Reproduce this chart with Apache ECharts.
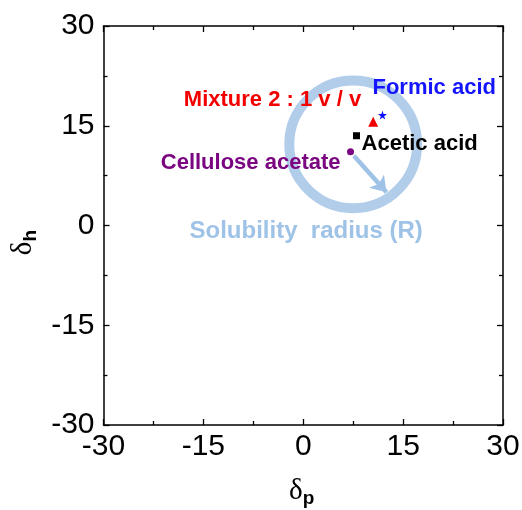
<!DOCTYPE html>
<html>
<head>
<meta charset="utf-8">
<script src="https://cdn.jsdelivr.net/npm/echarts@6/dist/echarts.min.js"></script>
<style>
  html, body { margin: 0; padding: 0; background: #fff; }
  #chart { width: 522px; height: 510px; }
</style>
</head>
<body>
<div id="chart"></div>
<script>
// Hansen solubility parameters (delta_p, delta_h)
const formicAcid = [11.9, 16.6];
const mixture = [10.5, 15.6];
const aceticAcid = [8.0, 13.5];
const celluloseAcetate = [7.1, 11.1];
// Solubility sphere projection: centre x, centre y, radius R
const solubilitySphere = [7.5, 12.2, 9.6];
// Arrow showing the radius
const radiusArrow = [[7.6, 10.5], [12.5, 5.0]];
// Axis range and tick step
const axisMin = -30;
const axisMax = 30;
const tickStep = 15;

const LIGHT_BLUE = '#9fc3e6';
const FONT = '"Liberation Sans", Arial, sans-serif';
const SERIF = '"Liberation Serif", "DejaVu Serif", serif';

const chart = echarts.init(document.getElementById('chart'), null, { renderer: 'canvas' });

function baseAxis(extra) {
  return Object.assign({
    type: 'value',
    min: axisMin,
    max: axisMax,
    interval: tickStep,
    splitLine: { show: false },
    axisLine: { show: true, onZero: false, lineStyle: { color: '#000', width: 1.5 } },
    axisTick: { show: true, inside: true, length: 6, lineStyle: { color: '#000', width: 1.3 } },
    minorTick: { show: true, splitNumber: 2, length: 4, lineStyle: { color: '#000', width: 1.3 } },
    minorSplitLine: { show: false }
  }, extra);
}

const tickLabel = { color: '#000', fontSize: 30, fontFamily: FONT };
const nameRich = {
  d: { fontSize: 29, fontFamily: SERIF, color: '#000' },
  s: { fontSize: 19, fontWeight: 'bold', fontFamily: FONT, color: '#000', padding: [14, 0, 0, 0] }
};

function pointLabel(text, align, offset, color) {
  return {
    show: true, formatter: text, position: 'inside', align: align, verticalAlign: 'middle',
    offset: offset, color: color, fontSize: 22, fontWeight: 'bold', fontFamily: FONT, opacity: 1
  };
}

const option = {
  backgroundColor: '#fff',
  animation: false,
  grid: { left: 103.5, right: 19, top: 26, bottom: 85, outerBoundsMode: 'none', containLabel: false },
  xAxis: [
    baseAxis({
      position: 'bottom',
      axisLabel: Object.assign({ margin: 7 }, tickLabel),
      name: '{d|δ}{s|p}',
      nameLocation: 'middle',
      nameGap: 50,
      nameTextStyle: { rich: nameRich, padding: [0, 3, 0, 0] }
    }),
    baseAxis({ position: 'top', axisLabel: { show: false } })
  ],
  yAxis: [
    baseAxis({
      position: 'left',
      axisLabel: Object.assign({ margin: 9 }, tickLabel),
      name: '{d|δ}{s|h}',
      nameLocation: 'middle',
      nameGap: 52,
      nameRotate: 90,
      nameTextStyle: { rich: nameRich, padding: [0, 34, 0, 0] }
    }),
    baseAxis({ position: 'right', axisLabel: { show: false } })
  ],
  series: [
    {
      // Solubility circle with its caption
      type: 'custom',
      coordinateSystem: 'cartesian2d',
      z: 1,
      data: [solubilitySphere],
      renderItem: function (params, api) {
        const c = api.coord([api.value(0), api.value(1)]);
        const r = api.size([api.value(2), 0])[0];
        return {
          type: 'group',
          children: [
            {
              type: 'circle',
              shape: { cx: c[0], cy: c[1], r: r },
              style: { fill: 'none', stroke: '#b1cdea', lineWidth: 10 }
            },
            {
              type: 'text',
              x: c[0] - 47,
              y: c[1] + 87.5,
              style: {
                text: 'Solubility  radius (R)',
                fill: LIGHT_BLUE,
                font: 'bold 24px ' + FONT,
                align: 'center',
                verticalAlign: 'middle'
              }
            }
          ]
        };
      }
    },
    {
      type: 'lines',
      coordinateSystem: 'cartesian2d',
      z: 2,
      symbol: ['none', 'arrow'],
      symbolSize: 15,
      lineStyle: { color: LIGHT_BLUE, width: 4.5, opacity: 1 },
      data: [{ coords: radiusArrow }]
    },
    {
      name: 'Formic acid',
      type: 'scatter',
      z: 3,
      symbol: 'path://M50,0 L61,35 L98,35 L68,57 L79,91 L50,70 L21,91 L32,57 L2,35 L39,35 Z',
      symbolSize: 9,
      itemStyle: { color: '#0d0dff', opacity: 1 },
      label: pointLabel('Formic acid', 'left', [-10, -27], '#1414ff'),
      data: [formicAcid]
    },
    {
      name: 'Mixture 2 : 1 v / v',
      type: 'scatter',
      z: 3,
      symbol: 'triangle',
      symbolSize: 10,
      itemStyle: { color: '#f00000', opacity: 1 },
      label: pointLabel('Mixture 2 : 1 v / v', 'right', [-12, -22], '#f20000'),
      data: [mixture]
    },
    {
      name: 'Acetic acid',
      type: 'scatter',
      z: 3,
      symbol: 'rect',
      symbolSize: 7,
      itemStyle: { color: '#000', opacity: 1 },
      label: pointLabel('Acetic acid', 'left', [5, 8], '#000'),
      data: [aceticAcid]
    },
    {
      name: 'Cellulose acetate',
      type: 'scatter',
      z: 3,
      symbol: 'circle',
      symbolSize: 7,
      itemStyle: { color: '#7b0580', opacity: 1 },
      label: pointLabel('Cellulose acetate', 'right', [-10, 11], '#7b0580'),
      data: [celluloseAcetate]
    }
  ]
};

chart.setOption(option);
</script>
</body>
</html>
